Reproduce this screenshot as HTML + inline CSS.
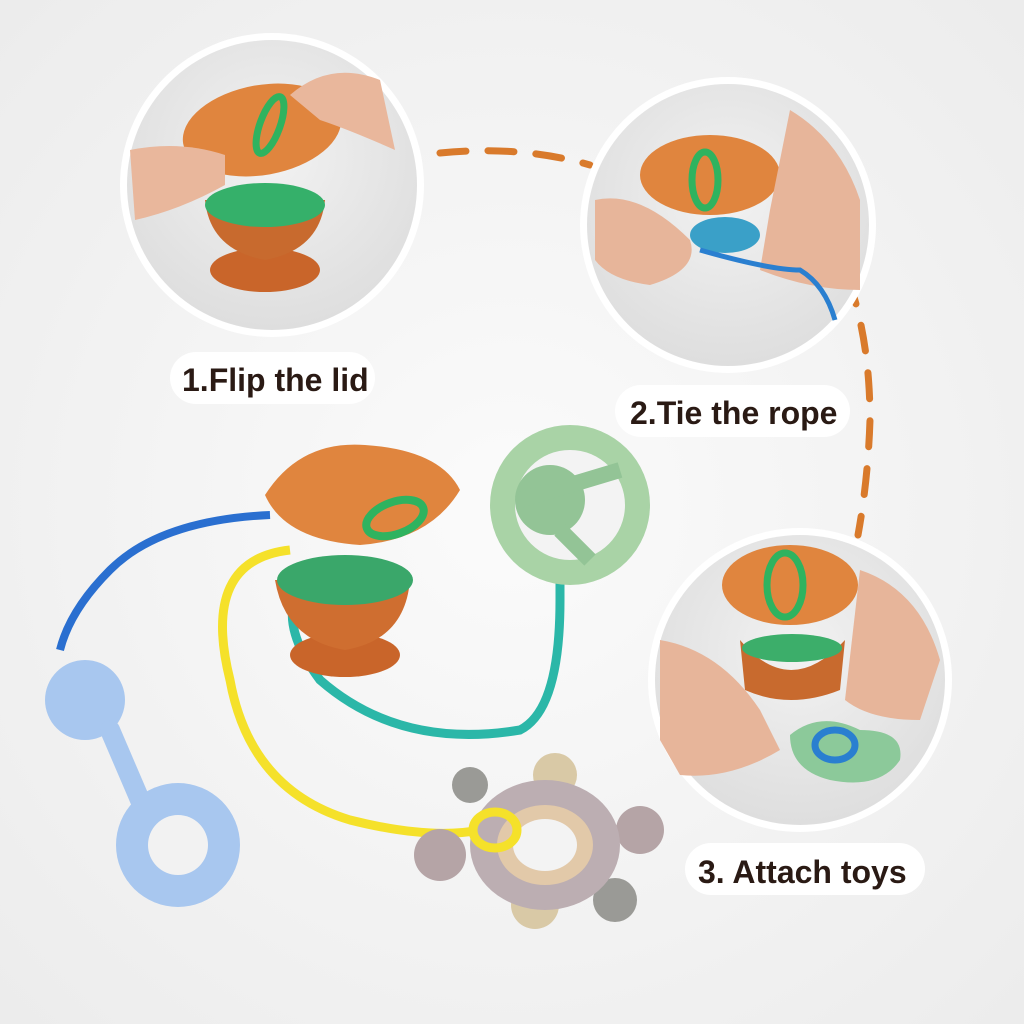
<!DOCTYPE html>
<html><head><meta charset="utf-8"><style>
html,body{margin:0;padding:0;width:1024px;height:1024px;overflow:hidden;background:#f3f3f3}
svg{display:block}
.lbl{font-family:"Liberation Sans",sans-serif;font-weight:bold;fill:#2a1a14}
</style></head><body>
<svg width="1024" height="1024" viewBox="0 0 1024 1024">
<defs>
<radialGradient id="bg" cx="50%" cy="50%" r="70%"><stop offset="0" stop-color="#fbfbfb"/><stop offset="1" stop-color="#ececec"/></radialGradient>
<radialGradient id="ph" cx="50%" cy="40%" r="60%"><stop offset="0" stop-color="#f2f2f2"/><stop offset="1" stop-color="#dedede"/></radialGradient>
</defs>
<rect width="1024" height="1024" fill="url(#bg)"/>
<!-- dashed connector -->
<path d="M440 153 Q520 145 590 165 M770 160 Q870 250 870 420 Q868 480 858 535" fill="none" stroke="#d97a2b" stroke-width="7" stroke-linecap="round" stroke-dasharray="26 22"/>
<!-- circle 1 -->
<circle cx="272" cy="185" r="152" fill="#fff"/>
<circle cx="272" cy="185" r="145" fill="url(#ph)"/>
<ellipse cx="265" cy="270" rx="55" ry="22" fill="#c9652a"/>
<path d="M205 200 Q210 250 265 260 Q320 250 325 200 Z" fill="#c86a2e"/>
<ellipse cx="265" cy="205" rx="60" ry="22" fill="#35b06a"/>
<ellipse cx="262" cy="130" rx="80" ry="45" fill="#e0853e" transform="rotate(-10 262 130)"/>
<ellipse cx="270" cy="125" rx="10" ry="30" fill="none" stroke="#2fb35f" stroke-width="7" transform="rotate(20 270 125)"/>
<path d="M130 150 Q180 140 225 155 L225 185 Q180 210 135 220 Z" fill="#e9b79c"/>
<path d="M290 95 Q330 60 380 80 L395 150 Q350 130 320 120 Z" fill="#e9b79c"/>
<!-- circle 2 -->
<circle cx="728" cy="225" r="148" fill="#fff"/>
<circle cx="728" cy="225" r="141" fill="url(#ph)"/>
<ellipse cx="710" cy="175" rx="70" ry="40" fill="#e0853e"/>
<ellipse cx="705" cy="180" rx="13" ry="28" fill="none" stroke="#2fb35f" stroke-width="7"/>
<ellipse cx="725" cy="235" rx="35" ry="18" fill="#3aa0c8"/>
<path d="M595 200 Q640 190 690 240 Q700 270 650 285 Q610 280 595 260 Z" fill="#e7b59a"/>
<path d="M790 110 Q840 140 860 200 L860 290 Q810 290 760 270 L770 210 Z" fill="#e7b59a"/>
<path d="M700 250 Q770 270 800 270 Q825 285 835 320" fill="none" stroke="#2a7fd0" stroke-width="5"/>
<!-- circle 3 -->
<circle cx="800" cy="680" r="152" fill="#fff"/>
<circle cx="800" cy="680" r="145" fill="url(#ph)"/>
<ellipse cx="790" cy="585" rx="68" ry="40" fill="#e0853e"/>
<ellipse cx="785" cy="585" rx="18" ry="32" fill="none" stroke="#2fb35f" stroke-width="7"/>
<path d="M740 640 Q790 700 845 640 L840 690 Q790 710 745 690 Z" fill="#c86a2e"/>
<ellipse cx="792" cy="648" rx="50" ry="14" fill="#3cae6a"/>
<path d="M790 735 Q820 710 860 730 Q905 730 900 760 Q880 790 830 780 Q790 770 790 735 Z" fill="#8cc99a"/>
<ellipse cx="835" cy="745" rx="20" ry="15" fill="none" stroke="#2a7fd0" stroke-width="7"/>
<path d="M660 640 Q720 650 760 710 L780 750 Q730 780 680 775 L660 740 Z" fill="#e7b59a"/>
<path d="M860 570 Q920 590 940 660 L920 720 Q870 720 845 700 Z" fill="#e7b59a"/>
<!-- labels -->
<rect x="170" y="352" width="205" height="52" rx="26" fill="#fff"/>
<text class="lbl" x="182" y="391" font-size="32">1.Flip the lid</text>
<rect x="615" y="385" width="235" height="52" rx="26" fill="#fff"/>
<text class="lbl" x="630" y="424" font-size="32">2.Tie the rope</text>
<rect x="685" y="843" width="240" height="52" rx="26" fill="#fff"/>
<text class="lbl" x="698" y="883" font-size="32">3. Attach toys</text>
<!-- ropes -->
<path d="M270 515 Q160 520 110 570 Q70 610 60 650" fill="none" stroke="#2a6fd0" stroke-width="8"/>
<path d="M290 550 Q200 560 230 680 Q250 790 350 820 Q430 840 480 830" fill="none" stroke="#f5e12a" stroke-width="9"/>
<path d="M330 560 Q260 600 320 680 Q400 750 520 730 Q560 710 560 600 L560 540" fill="none" stroke="#2bb7a8" stroke-width="9"/>
<!-- orange cup -->
<ellipse cx="345" cy="655" rx="55" ry="22" fill="#c9652a"/>
<path d="M275 580 Q285 640 345 650 Q405 640 410 580 Z" fill="#cf6e30"/>
<ellipse cx="345" cy="580" rx="68" ry="25" fill="#3aa76a"/>
<path d="M265 495 Q300 440 365 445 Q440 450 460 490 Q430 540 360 545 Q285 540 265 495 Z" fill="#e0853e"/>
<ellipse cx="395" cy="518" rx="30" ry="16" fill="none" stroke="#2fb35f" stroke-width="8" transform="rotate(-20 395 518)"/>
<!-- green flower -->
<circle cx="570" cy="505" r="80" fill="#a9d3a6"/>
<circle cx="570" cy="505" r="55" fill="#f3f3f3"/>
<circle cx="550" cy="500" r="35" fill="#93c496"/>
<path d="M520 500 L620 470 M560 530 L590 560" stroke="#93c496" stroke-width="16"/>
<!-- blue rattle -->
<circle cx="85" cy="700" r="40" fill="#a8c7ef"/>
<path d="M110 730 L140 800" stroke="#a8c7ef" stroke-width="20" stroke-linecap="round"/>
<circle cx="178" cy="845" r="62" fill="#a8c7ef"/>
<circle cx="178" cy="845" r="30" fill="#f2f2f2"/>
<!-- turtle -->
<circle cx="470" cy="785" r="18" fill="#9a9a96"/>
<circle cx="555" cy="775" r="22" fill="#d9c9a6"/>
<circle cx="640" cy="830" r="24" fill="#b5a4a6"/>
<circle cx="615" cy="900" r="22" fill="#9a9a96"/>
<circle cx="535" cy="905" r="24" fill="#d9c9a6"/>
<circle cx="440" cy="855" r="26" fill="#b5a4a6"/>
<ellipse cx="545" cy="845" rx="75" ry="65" fill="#bcaeb2"/>
<ellipse cx="545" cy="845" rx="48" ry="40" fill="#e2c9a9"/>
<ellipse cx="545" cy="845" rx="32" ry="26" fill="#f3f3f3"/>
<ellipse cx="495" cy="830" rx="22" ry="18" fill="none" stroke="#f5e12a" stroke-width="9"/>
</svg>
</body></html>
